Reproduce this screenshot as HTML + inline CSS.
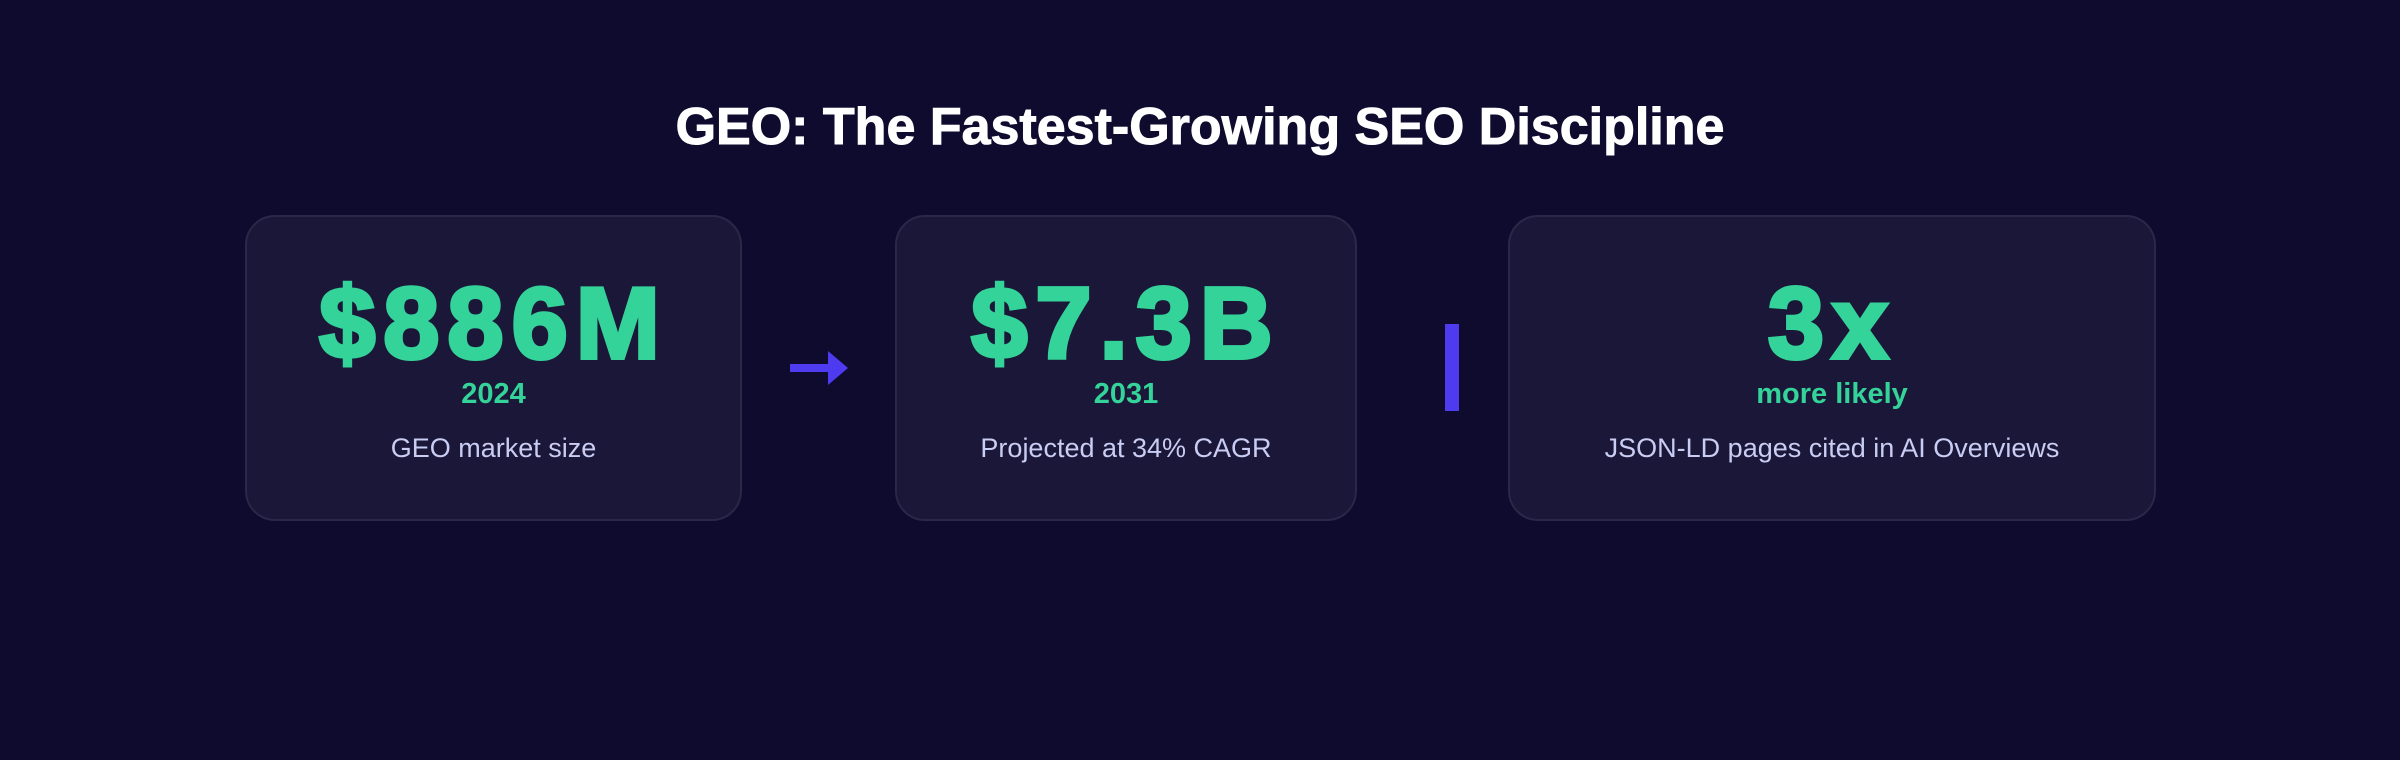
<!DOCTYPE html>
<html><head><meta charset="utf-8"><style>
*{margin:0;padding:0;box-sizing:border-box}
body{width:2400px;height:760px;background:#0f0b2e;font-family:"Liberation Sans",sans-serif;position:relative;overflow:hidden}
.t{position:absolute;left:0;width:2400px;top:92px;text-align:center;color:#fff;font-weight:bold;font-size:52px;line-height:70px;-webkit-text-stroke:1px #fff}
.c{position:absolute;top:215px;height:306px;background:#1b1738;border:2px solid #2b2748;border-radius:30px;text-align:center}
.n{position:absolute;left:0;right:0;top:52px;color:#34d399;font-weight:bold;font-size:101px;line-height:110px;letter-spacing:8px;-webkit-text-stroke:4px #34d399}
.y{position:absolute;left:0;right:0;top:160px;color:#34d399;font-weight:bold;font-size:29px;line-height:34px}
.l{position:absolute;left:0;right:0;top:214px;color:#c9ccf3;font-size:27px;line-height:34px}
</style></head><body>
<div class="t">GEO: The Fastest-Growing SEO Discipline</div>
<div class="c" style="left:245px;width:497px"><div class="n">$886M</div><div class="y">2024</div><div class="l">GEO market size</div></div>
<svg style="position:absolute;left:788px;top:349px" width="62" height="38"><rect x="2" y="15" width="44" height="8" fill="#4f3bef"/><polygon points="40,2 60,19 40,36" fill="#4f3bef"/></svg>
<div class="c" style="left:895px;width:462px"><div class="n">$7.3B</div><div class="y">2031</div><div class="l">Projected at 34% CAGR</div></div>
<div style="position:absolute;left:1445px;top:324px;width:14px;height:87px;background:#4f3bef"></div>
<div class="c" style="left:1508px;width:648px"><div class="n">3x</div><div class="y">more likely</div><div class="l">JSON-LD pages cited in AI Overviews</div></div>
</body></html>
